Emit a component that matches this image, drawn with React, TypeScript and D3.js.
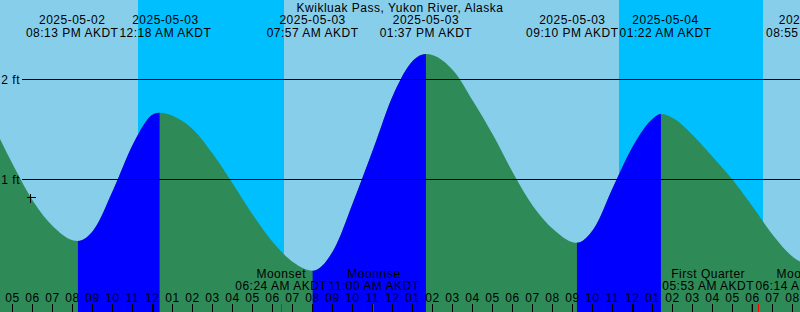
import React, { useMemo } from "react";
import * as d3 from "d3";

const W = 800;
const H = 312;
const TITLE = "Kwikluak Pass, Yukon River, Alaska";

// Tide curve samples (feet)
const sampleTimes = [
  "2025-05-02 16:00", "2025-05-02 17:00", "2025-05-02 18:00", "2025-05-02 19:00",
  "2025-05-02 20:00", "2025-05-02 20:13", "2025-05-02 21:00", "2025-05-02 22:00",
  "2025-05-02 23:00", "2025-05-03 00:00", "2025-05-03 00:18", "2025-05-03 01:00",
  "2025-05-03 02:00", "2025-05-03 03:00", "2025-05-03 04:00", "2025-05-03 05:00",
  "2025-05-03 06:00", "2025-05-03 07:00", "2025-05-03 07:57", "2025-05-03 09:00",
  "2025-05-03 10:00", "2025-05-03 11:00", "2025-05-03 12:00", "2025-05-03 13:00",
  "2025-05-03 13:37", "2025-05-03 14:00", "2025-05-03 15:00", "2025-05-03 16:00",
  "2025-05-03 17:00", "2025-05-03 18:00", "2025-05-03 19:00", "2025-05-03 20:00",
  "2025-05-03 21:00", "2025-05-03 21:10", "2025-05-03 22:00", "2025-05-03 23:00",
  "2025-05-04 00:00", "2025-05-04 01:00", "2025-05-04 01:22", "2025-05-04 02:00",
  "2025-05-04 03:00", "2025-05-04 04:00", "2025-05-04 05:00", "2025-05-04 06:00",
  "2025-05-04 07:00", "2025-05-04 08:00", "2025-05-04 08:55",
];
const sampleHeights = [
  1.53, 1.13, 0.77, 0.52,
  0.385, 0.38, 0.49, 0.9,
  1.36, 1.65, 1.663, 1.628,
  1.49, 1.24, 0.94, 0.63,
  0.36, 0.165, 0.083, 0.29,
  0.78, 1.31, 1.85, 2.19,
  2.25, 2.236, 2.08, 1.77,
  1.43, 1.05, 0.72, 0.494,
  0.366, 0.363, 0.5, 0.93,
  1.34, 1.61, 1.65, 1.605,
  1.43, 1.21, 0.98, 0.71,
  0.43, 0.215, 0.13,
];

// Tide extremes
const tideEventTimes = [
  "2025-05-02 20:13", "2025-05-03 00:18", "2025-05-03 07:57", "2025-05-03 13:37",
  "2025-05-03 21:10", "2025-05-04 01:22", "2025-05-04 08:55",
];
const tideEventKinds = ["low", "high", "low", "high", "low", "high", "low"];

// Sun
const sunsetTimes = ["2025-05-02 23:14", "2025-05-03 23:16"];
const sunriseTimes = ["2025-05-03 06:31", "2025-05-04 06:27"];

// Moon
const moonEventNames = ["Moonset", "Moonrise", "First Quarter", "Moonset"];
const moonEventTimes = ["2025-05-03 06:24", "2025-05-03 11:00", "2025-05-04 05:53", "2025-05-04 06:14"];

// Current-time mark
const markTimes = ["2025-05-02 17:49"];
const markHeights = [0.82];

// Axis
const gridFeet = [1, 2];
const hourTickFirst = "2025-05-02 17:00";
const hourTickLast = "2025-05-04 08:00";

const parse = d3.timeParse("%Y-%m-%d %H:%M");
const fmtDate = d3.timeFormat("%Y-%m-%d");
const fmtTime = d3.timeFormat("%I:%M %p AKDT");
const fmtHour = d3.timeFormat("%I");

const FONT = "'Liberation Sans', Arial, Helvetica, sans-serif";
const FS = 12;
const LS = 0.5;

let ctx: CanvasRenderingContext2D | null = null;
function textWidth(s: string) {
  if (!ctx) {
    const c = document.createElement("canvas");
    ctx = c.getContext("2d");
  }
  if (!ctx) return s.length * 7;
  ctx.font = `${FS}px 'Liberation Sans', Arial, sans-serif`;
  return ctx.measureText(s).width + s.length * LS;
}

type Label = { x: number; lines: string[]; w: number };
function spread(labels: Label[]) {
  const out = labels.map((l) => ({ ...l }));
  for (let i = 1; i < out.length; i++) {
    const a = out[i - 1];
    const b = out[i];
    const overlap = a.x + a.w / 2 - (b.x - b.w / 2);
    if (overlap > 0) {
      a.x -= overlap / 2;
      b.x += overlap / 2;
    }
  }
  return out;
}

export default function App() {
  const x = useMemo(
    () =>
      d3
        .scaleTime()
        .domain([parse("2025-05-03 00:00")!, parse("2025-05-04 00:00")!])
        .range([153.6, 633.6]),
    []
  );
  const y = useMemo(() => d3.scaleLinear().domain([0, 2]).range([279, 79]), []);

  const samples: [Date, number][] = sampleTimes.map((t, i) => [parse(t)!, sampleHeights[i]]);
  const area = d3
    .area<[Date, number]>()
    .x((d) => x(d[0]))
    .y0(H)
    .y1((d) => y(d[1]))
    .curve(d3.curveMonotoneX);
  const areaPath = area(samples) || "";

  const tideDates = tideEventTimes.map((t) => parse(t)!);
  const rising: [number, number][] = [];
  tideDates.forEach((d, i) => {
    if (tideEventKinds[i] === "low") {
      const next = tideDates[i + 1];
      rising.push([x(d), next ? x(next) : W + 50]);
    }
  });

  const nights = sunsetTimes.map((s, i) => [x(parse(s)!), x(parse(sunriseTimes[i])!)]);

  const tideLabels = spread(
    tideDates.map((d) => {
      const lines = [fmtDate(d), fmtTime(d)];
      return { x: x(d), lines, w: Math.max(...lines.map(textWidth)) };
    })
  );
  const moonDates = moonEventTimes.map((t) => parse(t)!);
  const moonLabels = spread(
    moonDates.map((d, i) => {
      const lines = [moonEventNames[i], fmtTime(d)];
      return { x: x(d), lines, w: Math.max(...lines.map(textWidth)) };
    })
  );

  const hours = d3.timeHour.range(parse(hourTickFirst)!, d3.timeMinute.offset(parse(hourTickLast)!, 1));
  const tickX = (d: Date) => x(d) - 1.1;

  const textProps = {
    fontFamily: FONT,
    fontSize: FS,
    letterSpacing: LS,
    fill: "#000",
  } as const;

  return (
    <svg
      width={W}
      height={H}
      style={{ position: "absolute", left: 0, top: 0, display: "block" }}
    >
      <defs>
        <clipPath id="risingClip">
          {rising.map(([a, b], i) => (
            <rect key={i} x={a} y={0} width={b - a} height={H} />
          ))}
        </clipPath>
      </defs>
      <rect x={0} y={0} width={W} height={H} fill="#87CEEB" />
      {nights.map(([a, b], i) => (
        <rect key={i} x={a} y={0} width={b - a} height={H} fill="#00BFFF" shapeRendering="crispEdges" />
      ))}
      <path d={areaPath} fill="#2E8B57" />
      <path d={areaPath} fill="#0000FF" clipPath="url(#risingClip)" />

      {gridFeet.map((v) => (
        <g key={v}>
          <line x1={22} x2={W} y1={y(v) + 0.5} y2={y(v) + 0.5} stroke="#000" strokeWidth={1} shapeRendering="crispEdges" />
          <text {...textProps} x={20} y={y(v) + 5} textAnchor="end">
            {`${v} ft`}
          </text>
        </g>
      ))}

      <text {...textProps} x={W / 2} y={12} textAnchor="middle">
        {TITLE}
      </text>
      {tideLabels.map((l, i) => (
        <g key={i}>
          <text {...textProps} x={l.x} y={24} textAnchor="middle">
            {l.lines[0]}
          </text>
          <text {...textProps} x={l.x} y={37} textAnchor="middle">
            {l.lines[1]}
          </text>
        </g>
      ))}

      {markTimes.map((t, i) => {
        const cx = Math.round(x(parse(t)!)) + 0.5;
        const cy = Math.round(y(markHeights[i])) + 0.5;
        return (
          <g key={i} stroke="#000" strokeWidth={1} shapeRendering="crispEdges">
            <line x1={cx - 4} x2={cx + 5} y1={cy} y2={cy} />
            <line x1={cx} x2={cx} y1={cy - 4} y2={cy + 5} />
          </g>
        );
      })}

      {moonLabels.map((l, i) => (
        <g key={i}>
          <text {...textProps} x={l.x} y={278} textAnchor="middle">
            {l.lines[0]}
          </text>
          <text {...textProps} x={l.x} y={290} textAnchor="middle">
            {l.lines[1]}
          </text>
        </g>
      ))}

      {hours.map((h, i) => {
        const tx = tickX(h);
        const midnight = h.getHours() === 0;
        return (
          <g key={i}>
            <text {...textProps} x={tx} y={302} textAnchor="middle">
              {fmtHour(h)}
            </text>
            <line
              x1={tx}
              x2={tx}
              y1={304}
              y2={H}
              stroke="#000"
              strokeWidth={midnight ? 2 : 1}
              shapeRendering="crispEdges"
            />
          </g>
        );
      })}
      {moonDates.map((d, i) => (
        <line
          key={i}
          x1={x(d)}
          x2={x(d)}
          y1={304}
          y2={H}
          stroke="#FF0000"
          strokeWidth={1}
          shapeRendering="crispEdges"
        />
      ))}
    </svg>
  );
}
